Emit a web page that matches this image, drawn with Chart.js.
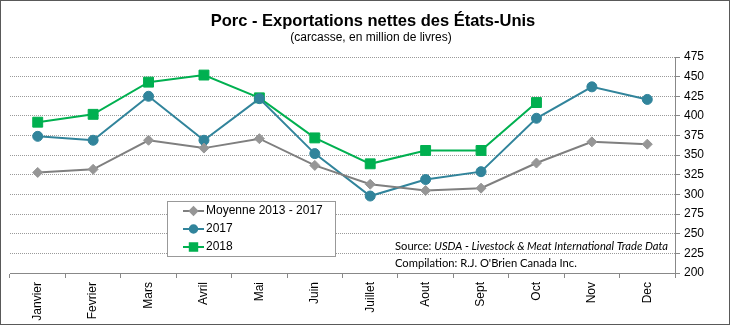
<!DOCTYPE html>
<html>
<head>
<meta charset="utf-8">
<script src="https://cdn.jsdelivr.net/npm/chart.js@4.4.0/dist/chart.umd.min.js"></script>
<style>
    body { margin: 0; background: #fff; }
</style>
</head>
<body>
<canvas id="graficoPorc" width="730" height="325"></canvas>
<script>
// Données (millions de livres, carcasse)
var mois = ['Janvier', 'Fevrier', 'Mars', 'Avril', 'Mai', 'Juin', 'Juillet', 'Aout', 'Sept', 'Oct', 'Nov', 'Dec']
var moyenne = [328, 332, 369, 359, 371, 337, 313, 305, 308, 340, 367, 364]
var annee2017 = [374, 369, 425, 369, 422, 352, 298, 319, 329, 397, 437, 421]
var annee2018 = [392, 402, 443, 452, 423, 372, 339, 356, 356, 417]
var series = ['Moyenne 2013 - 2017', '2017', '2018']
var axeY = [200, 475, 25] // min, max, pas

var titre = 'Porc - Exportations nettes des États-Unis'
var sousTitre = '(carcasse, en million de livres)'
var sourceTexte = ['Source: ', 'USDA - Livestock & Meat International Trade Data']
var compilation = "Compilation: R.J. O'Brien Canada Inc."

// titre, légende encadrée, source et cadre extérieur
var decor = {
    id: 'decor',
    afterDraw(chart) {
        var c = chart.ctx
        var a = chart.chartArea
        c.save()

        // titres
        c.fillStyle = '#000'
        c.textAlign = 'center'
        c.textBaseline = 'middle'
        c.font = 'bold 16.5px "Liberation Sans", Arial, sans-serif'
        c.fillText(titre, 373, 21)
        c.font = '12px "Liberation Sans", Arial, sans-serif'
        c.fillText(sousTitre, 371, 38)

        // boite de légende
        var bx = a.left + 157, by = a.top + 144
        c.fillStyle = '#fff'
        c.fillRect(bx, by, 168, 55)
        c.strokeStyle = '#999'
        c.lineWidth = 1
        c.strokeRect(bx + 0.5, by + 0.5, 168, 55)

        chart.data.datasets.forEach(function (ds, i) {
            var y = by + 10 + i * 18
            c.strokeStyle = ds.borderColor
            c.lineWidth = 2
            c.beginPath()
            c.moveTo(bx + 16, y)
            c.lineTo(bx + 37, y)
            c.stroke()
            c.fillStyle = ds.pointBackgroundColor
            c.strokeStyle = ds.pointBorderColor
            Chart.helpers.drawPoint(c, {
                pointStyle: ds.pointStyle,
                radius: ds.pointRadius * 0.75,
                rotation: 0,
                borderWidth: 1
            }, bx + 26.5, y)
            c.fillStyle = '#000'
            c.font = '12px "Liberation Sans", Arial, sans-serif'
            c.textBaseline = 'middle'
            c.textAlign = 'left'
            c.fillText(ds.label, bx + 39, y)
        })

        // source
        c.fillStyle = '#000'
        c.textAlign = 'left'
        c.textBaseline = 'middle'
        c.font = '11.2px Lato, sans-serif'
        var sx = 395
        c.fillText(sourceTexte[0], sx, 246)
        var w = c.measureText(sourceTexte[0]).width
        c.font = 'italic 11.2px Lato, sans-serif'
        c.fillText(sourceTexte[1], sx + w, 246)
        c.font = '11.2px Lato, sans-serif'
        c.fillText(compilation, sx, 263)

        // cadre
        c.strokeStyle = '#595959'
        c.lineWidth = 1
        c.strokeRect(0.5, 0.5, chart.width - 1, chart.height - 1)
        c.restore()
    }
}

var ctx = document.getElementById('graficoPorc')

graficoPorc = new Chart(ctx, {
    type: 'line',
    data: {
        labels: mois,
        datasets: [{
            label: series[0],
            data: moyenne,
            borderColor: '#7f7f7f',
            borderWidth: 2,
            pointStyle: 'rectRot',
            pointRadius: 5,
            pointBackgroundColor: '#969696',
            pointBorderColor: '#969696',
            pointBorderWidth: 1,
            tension: 0
        }, {
            label: series[1],
            data: annee2017,
            borderColor: '#31849b',
            borderWidth: 2,
            pointStyle: 'circle',
            pointRadius: 5,
            pointBackgroundColor: '#31849b',
            pointBorderColor: '#31849b',
            pointBorderWidth: 1,
            tension: 0
        }, {
            label: series[2],
            data: annee2018,
            borderColor: '#00b050',
            borderWidth: 2,
            pointStyle: 'rect',
            pointRadius: 7,
            pointBackgroundColor: '#00b050',
            pointBorderColor: '#00b050',
            pointBorderWidth: 1,
            tension: 0
        }]
    },
    options: {
        responsive: false,
        animation: false,
        layout: {
            padding: { left: 10, right: 10, top: 57, bottom: 0 }
        },
        plugins: {
            legend: { display: false },
            tooltip: { enabled: false },
            title: { display: false }
        },
        scales: {
            x: {
                offset: true,
                grid: {
                    offset: true,
                    drawOnChartArea: false,
                    tickLength: 5,
                    color: '#888'
                },
                border: { color: '#888' },
                ticks: {
                    minRotation: 90,
                    maxRotation: 90,
                    padding: 4,
                    color: '#000',
                    font: { family: '"Liberation Sans", Arial, sans-serif', size: 12 }
                },
                afterFit: function (s) { s.height = 52 }
            },
            y: {
                position: 'right',
                min: axeY[0],
                max: axeY[1],
                grid: {
                    color: '#9a9a9a',
                    tickLength: 5,
                    tickColor: '#888'
                },
                border: { color: '#888', dash: [1, 1] },
                ticks: {
                    stepSize: axeY[2],
                    padding: 4,
                    color: '#000',
                    font: { family: '"Liberation Sans", Arial, sans-serif', size: 12 }
                },
                afterFit: function (s) { s.width = 45 }
            }
        }
    },
    plugins: [decor]
});
</script>
</body>
</html>
